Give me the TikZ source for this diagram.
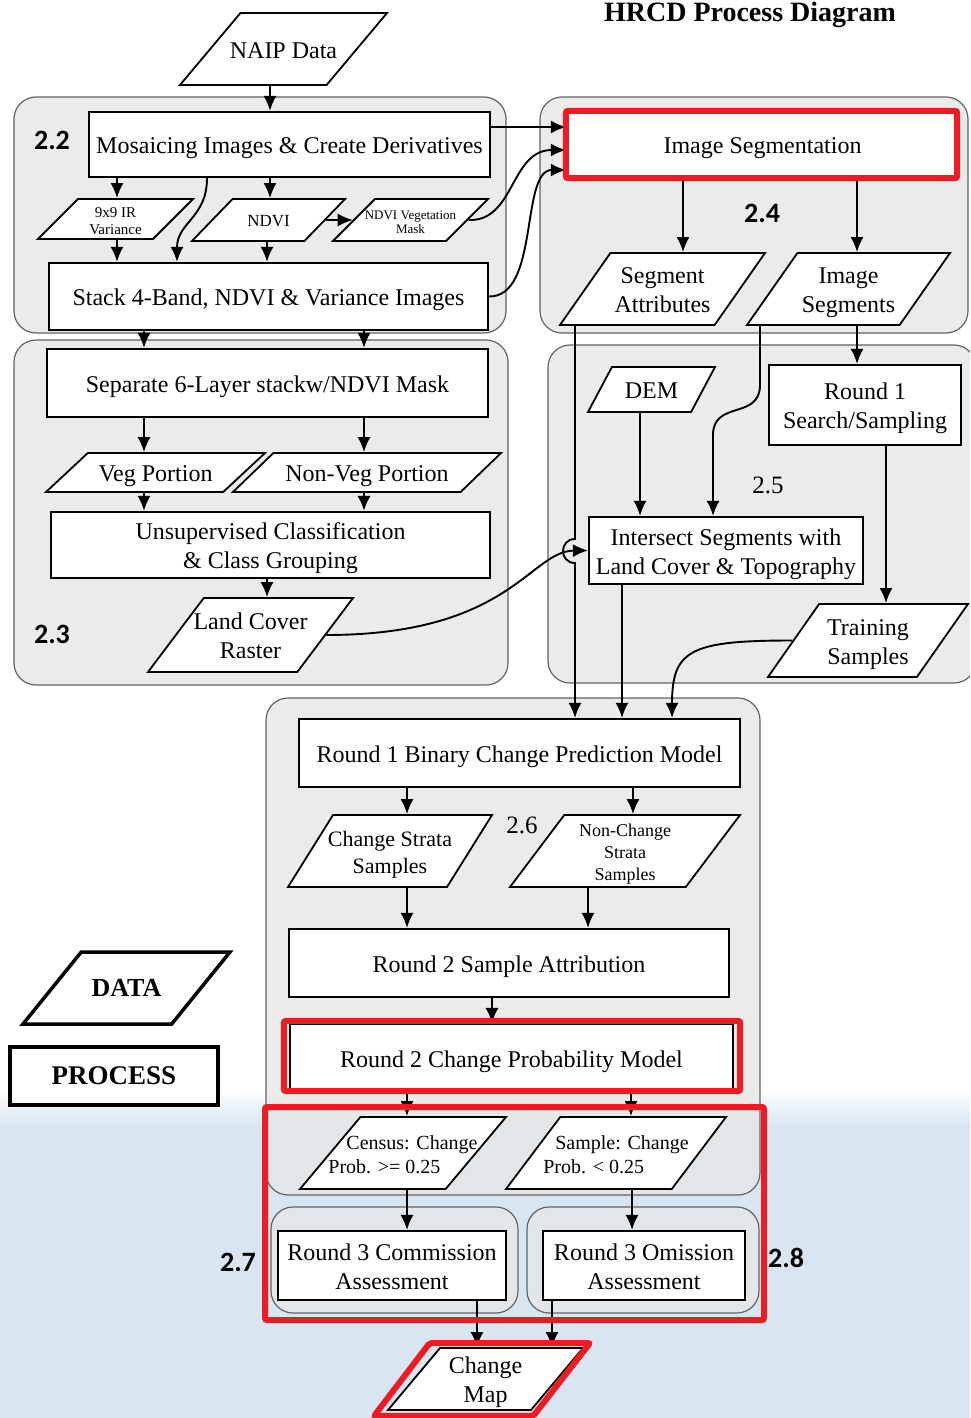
\documentclass[tikz,border=0pt]{standalone}
\usepackage{fontspec}
\setmainfont{Liberation Serif}
\newfontfamily\numfont{Carlito}
\usetikzlibrary{arrows.meta,shapes.geometric}

\definecolor{fondbleu}{RGB}{216,230,242}
\definecolor{grisgroupe}{RGB}{230,230,230}
\definecolor{bordgroupe}{RGB}{100,100,100}
\definecolor{rougemarque}{RGB}{237,28,36}

% texte centre dans une boite de hauteur fixe
\newcommand{\texteboite}[3][c]{\vbox to #2{\vss\hbox{\begin{tabular}{@{}#1@{}}#3\end{tabular}}\vss\vskip-7pt}}

\begin{document}
\begin{tikzpicture}[x=1pt,y=-1pt,
		groupe/.style={draw=bordgroupe,line width=1.2pt,fill=grisgroupe,fill opacity=0.8,rounded corners=22pt},
		process/.style={draw,line width=2.2pt,fill=white,inner sep=0pt,font=\fontsize{24}{29}\selectfont},
		donnee/.style={trapezium,trapezium stretches body,trapezium left angle=#1,trapezium right angle={180-#1},draw,line width=1.8pt,fill=white,inner xsep=-60pt,inner ysep=0pt,font=\fontsize{24}{29}\selectfont},
		fl/.style={line width=1.9pt,-{Latex[length=15pt,width=13pt]}},
		marque/.style={draw=rougemarque,line width=6pt,rounded corners=2pt},
		num/.style={font=\numfont\bfseries\fontsize{28}{28}\selectfont},
		numserif/.style={font=\fontsize{25}{25}\selectfont}]
	\useasboundingbox (0,0) rectangle (970,1418);
	\clip (0,0) rectangle (970,1418);

	% fond bleu du bas
	\fill[fondbleu] (0,1125) rectangle (970,1418);
	\shade[top color=white,bottom color=fondbleu] (0,1090) rectangle (970,1125.5);

	% groupes 2.2 a 2.8
	\draw[groupe] (14,97) rectangle (506,333);
	\draw[groupe] (14,340) rectangle (508,685);
	\draw[groupe] (540,97) rectangle (968,333);
	\draw[groupe] (548,345) rectangle (976,683);
	\draw[groupe] (266,698) rectangle (760,1195);
	\draw[groupe] (271,1207) rectangle (518,1313);
	\draw[groupe] (527,1207) rectangle (759,1313);

	% titre et numeros
	\node[font=\bfseries\fontsize{28}{28}\selectfont] (titre) at (750,15) {HRCD Process Diagram};
	\node[num] (l22) at (52,140) {2.2};
	\node[num] (l23) at (52,634) {2.3};
	\node[num] (l24) at (762,213) {2.4};
	\node[numserif] (l25) at (768,485) {2.5};
	\node[numserif] (l26) at (522,825) {2.6};
	\node[num] (l27) at (238,1262) {2.7};
	\node[num] (l28) at (786,1258) {2.8};

	% 2.2 : mosaique et derivees
	\node[donnee=50,minimum width=207pt] (naip) at (283.5,49) {\texteboite{72pt}{NAIP Data}};
	\node[process,minimum width=401pt] (mosaic) at (289.5,144.5) {\texteboite{65pt}{Mosaicing Images \& Create Derivatives}};
	\node[donnee=45,minimum width=155pt,font=\fontsize{15}{17}\selectfont] (irvar) at (115.5,219) {\texteboite{40pt}{9x9 IR\\Variance}};
	\node[donnee=46,minimum width=153pt,font=\fontsize{17}{17}\selectfont] (ndvi) at (268.5,220) {\texteboite{42pt}{NDVI}};
	\node[donnee=45,minimum width=155pt,font=\fontsize{13}{14}\selectfont] (vegmask) at (410.5,220) {\texteboite{42pt}{NDVI Vegetation\\Mask}};
	\node[process,minimum width=439pt] (stack) at (268.5,296.5) {\texteboite{67pt}{Stack 4-Band, NDVI \& Variance Images}};

	% 2.3 : classification
	\node[process,minimum width=441pt] (sep) at (267.5,383) {\texteboite{68pt}{Separate 6-Layer stackw/NDVI Mask}};
	\node[donnee=43,minimum width=219pt] (veg) at (155.5,472.5) {\texteboite{39pt}{Veg Portion}};
	\node[donnee=44,minimum width=268pt] (nonveg) at (367,472.5) {\texteboite{39pt}{Non-Veg Portion}};
	\node[process,minimum width=439pt] (unsup) at (270.5,545) {\texteboite{66pt}{Unsupervised Classification\\\& Class Grouping}};
	\node[donnee=53,minimum width=205pt] (landcov) at (250.5,635) {\texteboite{74pt}{Land Cover\\Raster}};

	% 2.4 : segmentation
	\node[process,minimum width=391pt] (imgseg) at (762.5,144.5) {\texteboite{65pt}{Image Segmentation}};
	\node[donnee=55,minimum width=205pt] (segattr) at (662.5,289) {\texteboite{72pt}{Segment\\Attributes}};
	\node[donnee=55,minimum width=203pt] (imgsegs) at (848.5,289) {\texteboite{72pt}{Image\\Segments}};

	% 2.5 : intersection et echantillons
	\node[donnee=62,minimum width=127pt] (dem) at (651.5,389.5) {\texteboite{45pt}{DEM}};
	\node[process,minimum width=192pt] (r1search) at (865,405) {\texteboite{80pt}{Round 1\\Search/Sampling}};
	\node[process,minimum width=274pt] (intersect) at (726,550.5) {\texteboite{67pt}{Intersect Segments with\\Land Cover \& Topography}};
	\node[donnee=55,minimum width=200pt] (training) at (868,640.5) {\texteboite{73pt}{Training\\Samples}};

	% 2.6 : modeles
	\node[process,minimum width=441pt] (r1bin) at (519.5,753) {\texteboite{68pt}{Round 1 Binary Change Prediction Model}};
	\node[donnee=58,minimum width=204pt,font=\fontsize{22}{27}\selectfont] (chstrata) at (390,851) {\texteboite{72pt}{Change Strata\\Samples}};
	\node[donnee=53,minimum width=230pt,font=\fontsize{18}{22}\selectfont] (nonch) at (625,851) {\texteboite{72pt}{Non-Change\\Strata\\Samples}};
	\node[process,minimum width=440pt] (r2samp) at (509,963) {\texteboite{68pt}{Round 2 Sample Attribution}};
	\node[process,minimum width=443pt] (r2chg) at (511.5,1058.5) {\texteboite{69pt}{Round 2 Change Probability Model}};
	\node[donnee=50,minimum width=206pt,font=\fontsize{20}{24}\selectfont] (census) at (403,1153) {\texteboite[l]{72pt}{\hspace*{18pt}Census: Change\\Prob. >= 0.25}};
	\node[donnee=53,minimum width=220pt,font=\fontsize{20}{24}\selectfont] (sample) at (616,1153) {\texteboite[l]{72pt}{\hspace*{12pt}Sample: Change\\Prob. < 0.25}};

	% 2.7 et 2.8 : evaluation
	\node[process,minimum width=228pt] (commis) at (392,1265.5) {\texteboite{69pt}{Round 3 Commission\\Assessment}};
	\node[process,minimum width=202pt] (omis) at (644,1265.5) {\texteboite{69pt}{Round 3 Omission\\Assessment}};
	\node[donnee=50,minimum width=195pt] (cmap) at (485.5,1379) {\texteboite{62pt}{Change\\Map}};

	% legende
	\node[donnee=51,minimum width=207pt,line width=3.5pt,font=\bfseries\fontsize{26}{26}\selectfont] (legdata) at (126.5,988) {\texteboite{72pt}{DATA}};
	\node[process,minimum width=208pt,line width=3.5pt,font=\bfseries\fontsize{27}{27}\selectfont] (legproc) at (114,1076) {\texteboite{58pt}{PROCESS}};

	% fleches 2.2
	\draw[fl] (naip.south -| 270,0) -- (mosaic.north -| 270,0);
	\draw[fl] (mosaic.south -| 117,0) -- (irvar.north -| 117,0);
	\draw[fl] (mosaic.south -| 270,0) -- (ndvi.north -| 270,0);
	\draw[fl] (mosaic.south -| 207,0) .. controls (207,218) and (177,222) .. (stack.north -| 177,0);
	\draw[fl] (irvar.south -| 117,0) -- (stack.north -| 117,0);
	\draw[fl] (ndvi.south -| 267,0) -- (stack.north -| 267,0);
	\draw[fl] (ndvi.east) -- (vegmask.west);
	\draw[fl] (mosaic.east |- 0,127) -- (imgseg.west |- 0,127);
	\draw[fl] (vegmask.east) .. controls (515,222) and (510,150) .. (imgseg.west |- 0,150);
	\draw[fl] (stack.east) .. controls (540,297) and (520,170) .. (imgseg.west |- 0,170);

	% fleches 2.3
	\draw[fl] (stack.south -| 144,0) -- (sep.north -| 144,0);
	\draw[fl] (stack.south -| 364,0) -- (sep.north -| 364,0);
	\draw[fl] (sep.south -| 144,0) -- (veg.north -| 144,0);
	\draw[fl] (sep.south -| 364,0) -- (nonveg.north -| 364,0);
	\draw[fl] (veg.south -| 144,0) -- (unsup.north -| 144,0);
	\draw[fl] (nonveg.south -| 364,0) -- (unsup.north -| 364,0);
	\draw[fl] (unsup.south -| 267,0) -- (landcov.north -| 267,0);

	% fleches 2.4 et 2.5
	\draw[fl] (imgseg.south -| 683,0) -- (segattr.north -| 683,0);
	\draw[fl] (imgseg.south -| 857,0) -- (imgsegs.north -| 857,0);
	\draw[fl] (segattr.south -| 575,0) -- (575,539) .. controls (559,539) and (559,563) .. (575,563) -- (r1bin.north -| 575,0);
	\draw[fl] (imgsegs.south -| 760,0) -- (760,385) .. controls (760,420) and (713,400) .. (713,435) -- (intersect.north -| 713,0);
	\draw[fl] (imgsegs.south -| 857,0) -- (r1search.north -| 857,0);
	\draw[fl] (dem.south -| 640,0) -- (intersect.north -| 640,0);
	\draw[fl] (r1search.south -| 886,0) -- (training.north -| 886,0);
	\draw[fl] (landcov.east) .. controls (510,635) and (530,551) .. (intersect.west);
	\draw[fl] (intersect.south -| 622,0) -- (r1bin.north -| 622,0);
	\draw[fl] (training.west) .. controls (690,640.5) and (672,650) .. (r1bin.north -| 672,0);

	% fleches 2.6 a 2.8
	\draw[fl] (r1bin.south -| 407,0) -- (chstrata.north -| 407,0);
	\draw[fl] (r1bin.south -| 633,0) -- (nonch.north -| 633,0);
	\draw[fl] (chstrata.south -| 407,0) -- (r2samp.north -| 407,0);
	\draw[fl] (nonch.south -| 588,0) -- (r2samp.north -| 588,0);
	\draw[fl] (r2samp.south -| 492,0) -- (r2chg.north -| 492,0);
	\draw[fl] (r2chg.south -| 407,0) -- (census.north -| 407,0);
	\draw[fl] (r2chg.south -| 631,0) -- (sample.north -| 631,0);
	\draw[fl] (census.south -| 407,0) -- (commis.north -| 407,0);
	\draw[fl] (sample.south -| 632,0) -- (omis.north -| 632,0);
	\draw[fl] (commis.south -| 477,0) -- (cmap.north -| 477,0);
	\draw[fl] (omis.south -| 552,0) -- (cmap.north -| 552,0);

	% cadres rouges
	\draw[marque] (imgseg.north west) rectangle ([xshift=-2pt]imgseg.south east);
	\draw[marque] ([xshift=-5pt,yshift=2pt]r2chg.north west) rectangle ([xshift=6pt,yshift=3pt]r2chg.south east);
	\draw[marque] (265,1107) rectangle (764,1320);
	\draw[marque] ([xshift=-10pt,yshift=4pt]cmap.top left corner) -- ([xshift=5pt,yshift=4pt]cmap.top right corner) -- ([xshift=2pt,yshift=-5pt]cmap.bottom right corner) -- ([xshift=-12pt,yshift=-5pt]cmap.bottom left corner) -- cycle;
\end{tikzpicture}
\end{document}
